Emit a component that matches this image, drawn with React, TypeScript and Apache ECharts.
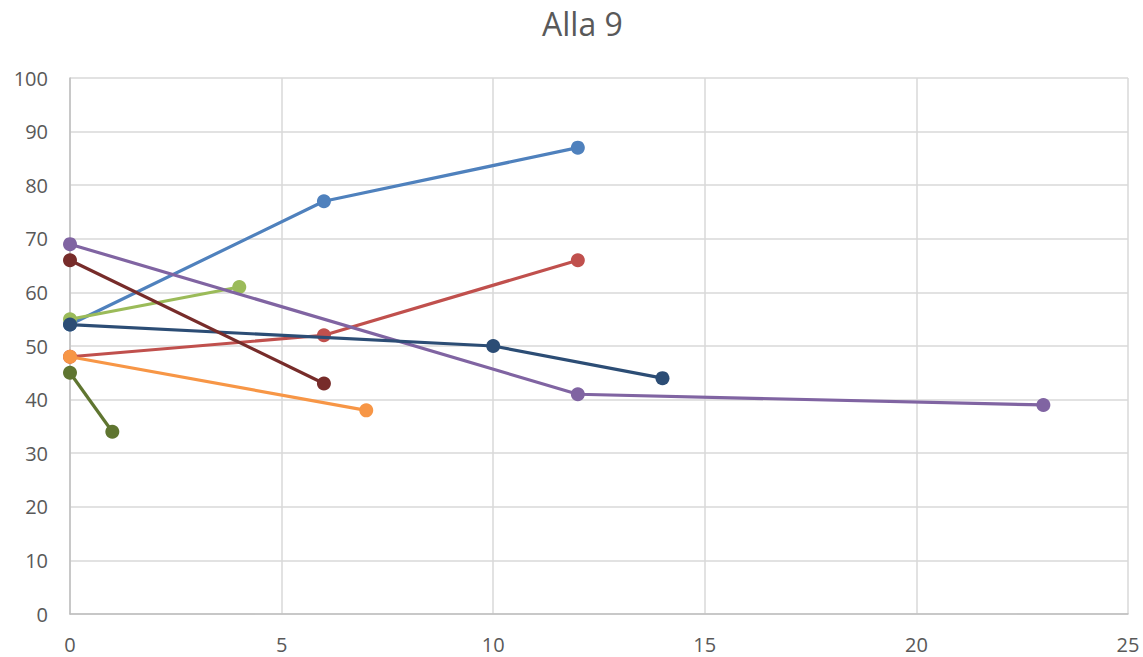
import React, { useEffect, useRef } from "react";
import * as echarts from "echarts";

const seriesNames = ["S1", "S2", "S3", "S4", "S6", "S7", "S8", "S9"];
const seriesColors = ["#4F81BD", "#C0504D", "#9BBB59", "#8064A2", "#F79646", "#2C4D75", "#772C2A", "#5F7530"];
const s1 = [[0, 54], [6, 77], [12, 87]];
const s2 = [[0, 48], [6, 52], [12, 66]];
const s3 = [[0, 55], [4, 61]];
const s4 = [[0, 69], [12, 41], [23, 39]];
const s6 = [[0, 48], [7, 38]];
const s7 = [[0, 54], [10, 50], [14, 44]];
const s8 = [[0, 66], [6, 43]];
const s9 = [[0, 45], [1, 34]];
const allData = [s1, s2, s3, s4, s6, s7, s8, s9];

export default function App() {
  const ref = useRef<HTMLDivElement>(null);
  useEffect(() => {
    const chart = echarts.init(ref.current!, null, { renderer: "svg" });
    const font = "'Open Sans', 'Noto Sans', sans-serif";
    chart.setOption({
      animation: false,
      backgroundColor: "#ffffff",
      title: {
        text: "Alla 9",
        left: 537,
        top: 2,
        textStyle: { fontFamily: font, fontSize: 32, fontWeight: "normal", color: "#595959" },
      },
      grid: { left: 70, right: 15, top: 78, bottom: 43 },
      xAxis: {
        type: "value",
        min: 0,
        max: 25,
        interval: 5,
        axisLine: { show: true, lineStyle: { color: "#bfbfbf", width: 1.5 } },
        axisTick: { show: false },
        splitLine: { show: true, lineStyle: { color: "#d9d9d9", width: 1.5 } },
        axisLabel: { margin: 20, color: "#595959", fontSize: 20, fontFamily: font },
      },
      yAxis: {
        type: "value",
        min: 0,
        max: 100,
        interval: 10,
        axisLine: { show: true, lineStyle: { color: "#bfbfbf", width: 1.5 } },
        axisTick: { show: false },
        splitLine: { show: true, lineStyle: { color: "#d9d9d9", width: 1.5 } },
        axisLabel: { margin: 22, color: "#595959", fontSize: 20, fontFamily: font },
      },
      series: allData.map((d, i) => ({
        name: seriesNames[i],
        type: "line",
        data: d,
        symbol: "circle",
        symbolSize: 14,
        lineStyle: { width: 3.2, color: seriesColors[i] },
        itemStyle: { color: seriesColors[i] },
        z: 2 + i,
      })),
    });
    return () => chart.dispose();
  }, []);
  return <div ref={ref} style={{ position: "absolute", left: 0, top: 0, width: 1143, height: 657 }} />;
}
